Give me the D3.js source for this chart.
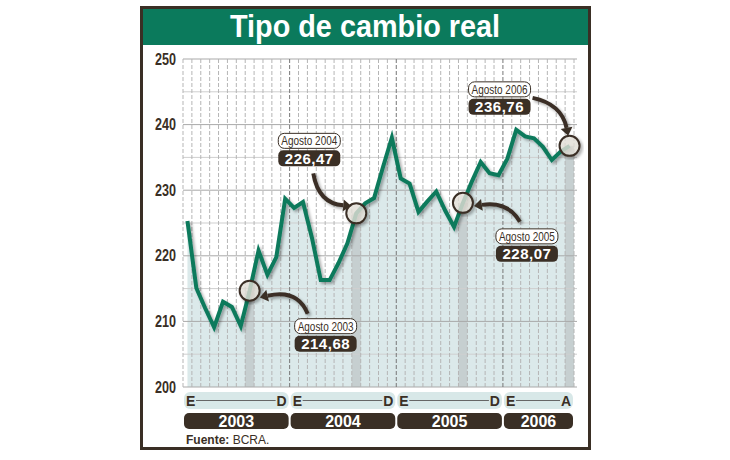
<!DOCTYPE html>
<html>
<head>
<meta charset="utf-8">
<script src="https://cdn.jsdelivr.net/npm/d3@7/dist/d3.min.js"></script>
<style>
  body { margin: 0; background: #fff; }
  svg { display: block; }
  text { font-family: "Liberation Sans", Arial, sans-serif; }
</style>
</head>
<body>
<div id="chart"></div>
<script>
// data
const years = ["2003", "2004", "2005", "2006"];
const monthsPerYear = [12, 12, 12, 8];
const monthInitials = ["E", "F", "M", "A", "M", "J", "J", "A", "S", "O", "N", "D"];
const values = [
    225.3, 215.1, 212.0, 209.1, 213.0, 212.2, 209.3, 214.68, 220.8, 217.1, 219.8, 228.7,
    227.3, 228.2, 222.8, 216.3, 216.3, 218.9, 221.9, 226.47, 228.0, 228.8, 233.5, 238.0,
    231.8, 231.0, 226.7, 228.3, 229.8, 226.9, 224.4, 228.07, 231.3, 234.3, 232.6, 232.3,
    234.8, 239.2, 238.2, 237.9, 236.6, 234.6, 235.9, 236.76
];
const yTicks = [200, 210, 220, 230, 240, 250];
const calloutIndex = [7, 19, 31, 43];
const calloutLabels = ["Agosto 2003", "Agosto 2004", "Agosto 2005", "Agosto 2006"];
const calloutValues = ["214,68", "226,47", "228,07", "236,76"];

// layout of each callout relative to its point: label offset, arrow path offsets
const calloutLayout = [
    {dx: 76, dy: 36, tail: [58, 23], ctrl: [48, -2], head: [18, 5]},
    {dx: -47, dy: -72, tail: [-43, -40], ctrl: [-38, -10], head: [-13, -8]},
    {dx: 64, dy: 34, tail: [57, 19], ctrl: [45, -2], head: [19, 2]},
    {dx: -70, dy: -56, tail: [-37, -48], ctrl: [-8, -42], head: [-3, -18]}
];

const width = 730, height = 460;
const total = d3.sum(monthsPerYear);
const dark = "#3a2f25";
const green = "#0b7a5c";

const svg = d3.select("#chart").append("svg")
    .attr("width", width)
    .attr("height", height);

const defs = svg.append("defs");
const shadow = defs.append("filter").attr("id", "shadow")
    .attr("x", "-20%").attr("y", "-20%").attr("width", "140%").attr("height", "140%");
shadow.append("feGaussianBlur").attr("in", "SourceAlpha").attr("stdDeviation", 1.6).attr("result", "blur");
shadow.append("feOffset").attr("in", "blur").attr("dx", 2).attr("dy", 2).attr("result", "off");
shadow.append("feComponentTransfer").attr("in", "off").attr("result", "soft")
    .append("feFuncA").attr("type", "linear").attr("slope", 0.35);
const merge = shadow.append("feMerge");
merge.append("feMergeNode").attr("in", "soft");
merge.append("feMergeNode").attr("in", "SourceGraphic");

// frame
svg.append("rect")
    .attr("x", 141.5).attr("y", 7.5)
    .attr("width", 448).attr("height", 441)
    .attr("fill", "#fff").attr("stroke", dark).attr("stroke-width", 3);
svg.append("rect")
    .attr("x", 143).attr("y", 9)
    .attr("width", 445).attr("height", 36)
    .attr("fill", green);
svg.append("text")
    .attr("x", 365).attr("y", 37)
    .attr("text-anchor", "middle")
    .attr("font-size", 32).attr("font-weight", "bold")
    .attr("textLength", 270).attr("lengthAdjust", "spacingAndGlyphs")
    .attr("fill", "#fff")
    .text("Tipo de cambio real");

// scales
const x = d3.scaleLinear().domain([0, total]).range([183, 574]);
const y = d3.scaleLinear().domain([200, 250]).range([387, 59]);

const plot = svg.append("g");

// area under the line
const area = d3.area()
    .x((d, i) => x(i + 0.5))
    .y0(y(200))
    .y1(d => y(d));
plot.append("path")
    .datum(values)
    .attr("d", area)
    .attr("fill", "#dbe9ea");

// august bands
plot.selectAll(".band")
    .data(calloutIndex)
    .enter().append("rect")
    .attr("class", "band")
    .attr("x", d => x(d + 0.5) - 4.5)
    .attr("width", 9)
    .attr("y", d => y(values[d]))
    .attr("height", d => y(200) - y(values[d]))
    .attr("fill", "#c6cfd0");

// horizontal grid
const hLines = d3.range(200, 251, 5);
plot.selectAll(".hgrid")
    .data(hLines)
    .enter().append("line")
    .attr("class", "hgrid")
    .attr("x1", x(0)).attr("x2", x(total) + 3)
    .attr("y1", d => y(d)).attr("y2", d => y(d))
    .attr("stroke", d => d % 10 === 0 ? "#a9a9a9" : "#cfcfcf")
    .attr("stroke-width", 1);

// vertical dashed grid, one per month boundary
const yearStarts = [];
monthsPerYear.reduce((acc, m) => { yearStarts.push(acc); return acc + m; }, 0);
plot.selectAll(".vgrid")
    .data(d3.range(0, total + 1))
    .enter().append("line")
    .attr("class", "vgrid")
    .attr("x1", d => x(d)).attr("x2", d => x(d))
    .attr("y1", y(250)).attr("y2", y(200))
    .attr("stroke", d => yearStarts.includes(d) && d > 0 ? "#777" : "#b5b5b5")
    .attr("stroke-width", 1)
    .attr("stroke-dasharray", "4,2");

// y axis labels
const yAxis = d3.axisLeft(y).tickValues(yTicks).tickSize(0).tickPadding(7);
const yg = svg.append("g")
    .attr("transform", `translate(${x(0)},0)`)
    .call(yAxis);
yg.select(".domain").remove();
yg.selectAll("text")
    .attr("font-family", "Liberation Sans, Arial, sans-serif")
    .attr("font-size", 16).attr("font-weight", "bold")
    .attr("textLength", 21).attr("lengthAdjust", "spacingAndGlyphs")
    .attr("fill", dark);

// line
const line = d3.line()
    .x((d, i) => x(i + 0.5))
    .y(d => y(d));
plot.append("path")
    .datum(values)
    .attr("d", line)
    .attr("fill", "none")
    .attr("stroke", green)
    .attr("stroke-width", 4)
    .attr("stroke-linejoin", "miter")
    .attr("filter", "url(#shadow)");

// callouts
calloutIndex.forEach((idx, k) => {
    const px = x(idx + 0.5), py = y(values[idx]);
    const lay = calloutLayout[k];
    const g = svg.append("g");

    g.append("circle")
        .attr("cx", px).attr("cy", py).attr("r", 10)
        .attr("fill", "#e9e6dd").attr("fill-opacity", 0.75)
        .attr("stroke", dark).attr("stroke-width", 2)
        .attr("filter", "url(#shadow)");

    const tx = px + lay.tail[0], ty = py + lay.tail[1];
    const cx = px + lay.ctrl[0], cy = py + lay.ctrl[1];
    const hx = px + lay.head[0], hy = py + lay.head[1];
    g.append("path")
        .attr("d", `M${tx},${ty} Q${cx},${cy} ${hx},${hy}`)
        .attr("fill", "none")
        .attr("stroke", dark)
        .attr("stroke-width", 4)
        .attr("filter", "url(#shadow)");
    // arrow head along the end tangent
    const ang = Math.atan2(hy - cy, hx - cx);
    const len = 8, wid = 6;
    const ex = hx + Math.cos(ang) * len, ey = hy + Math.sin(ang) * len;
    const nx = -Math.sin(ang) * wid, ny = Math.cos(ang) * wid;
    g.append("path")
        .attr("d", `M${ex},${ey} L${hx + nx},${hy + ny} L${hx - nx},${hy - ny} Z`)
        .attr("fill", dark);

    const lx = px + lay.dx, ly = py + lay.dy;
    g.append("rect")
        .attr("x", lx - 31).attr("y", ly - 8)
        .attr("width", 62).attr("height", 15)
        .attr("rx", 6)
        .attr("fill", "#fff").attr("stroke", dark).attr("stroke-width", 1);
    g.append("text")
        .attr("x", lx).attr("y", ly + 4)
        .attr("text-anchor", "middle")
        .attr("font-size", 13)
        .attr("textLength", 56).attr("lengthAdjust", "spacingAndGlyphs")
        .attr("fill", dark)
        .text(calloutLabels[k]);
    g.append("rect")
        .attr("x", lx - 31).attr("y", ly + 9)
        .attr("width", 62).attr("height", 16)
        .attr("rx", 5)
        .attr("fill", dark);
    g.append("text")
        .attr("x", lx).attr("y", ly + 22.5)
        .attr("text-anchor", "middle")
        .attr("font-size", 15).attr("font-weight", "bold")
        .attr("letter-spacing", 0.5)
        .attr("fill", "#fff")
        .text(calloutValues[k]);
});

// bottom month band and year boxes
years.forEach((yr, k) => {
    const start = yearStarts[k], end = start + monthsPerYear[k];
    const x0 = x(start) + 1, x1 = x(end) - 1;
    const g = svg.append("g");
    g.append("rect")
        .attr("x", x0).attr("y", 392)
        .attr("width", x1 - x0).attr("height", 17)
        .attr("rx", 6)
        .attr("fill", "#d8e8e8");
    g.append("text")
        .attr("x", x0 + 2).attr("y", 406)
        .attr("font-size", 14).attr("font-weight", "bold")
        .attr("fill", dark)
        .text(monthInitials[0]);
    g.append("text")
        .attr("x", x1 - 2).attr("y", 406)
        .attr("text-anchor", "end")
        .attr("font-size", 14).attr("font-weight", "bold")
        .attr("fill", dark)
        .text(monthInitials[monthsPerYear[k] - 1]);
    g.append("line")
        .attr("x1", x0 + 12).attr("x2", x1 - 13)
        .attr("y1", 400.5).attr("y2", 400.5)
        .attr("stroke", "#666").attr("stroke-width", 1);
    g.append("rect")
        .attr("x", x0).attr("y", 413)
        .attr("width", x1 - x0).attr("height", 16)
        .attr("rx", 5)
        .attr("fill", dark);
    g.append("text")
        .attr("x", (x0 + x1) / 2).attr("y", 427)
        .attr("text-anchor", "middle")
        .attr("font-size", 16).attr("font-weight", "bold")
        .attr("fill", "#fff")
        .text(yr);
});

// source
const src = svg.append("text")
    .attr("x", 186).attr("y", 444)
    .attr("font-size", 12)
    .attr("fill", dark);
src.append("tspan").attr("font-weight", "bold").text("Fuente: ");
src.append("tspan").text("BCRA.");
</script>
</body>
</html>
